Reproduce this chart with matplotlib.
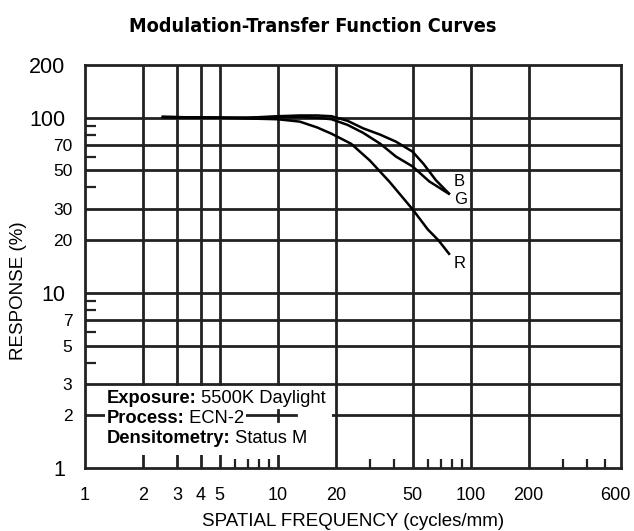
import matplotlib
matplotlib.use("agg")

import matplotlib.pyplot as plt
from matplotlib.patches import Rectangle
from matplotlib.ticker import FixedLocator, NullFormatter

plt.rcParams["font.family"] = ["Liberation Sans", "DejaVu Sans"]

# Curve data (frequency in cycles/mm, response in %).
freq_b = [2.5, 5, 7, 10, 13, 16, 19, 23, 27.7, 34, 41, 50, 57, 66, 78]
resp_b = [101, 100, 100, 102, 103, 103, 102, 96, 87, 80, 73, 64, 54.5, 44, 36.5]

freq_g = [2.5, 5, 7, 10, 13, 16, 19, 23, 27.7, 34, 41, 50, 61, 78]
resp_g = [101, 100, 100, 101, 101, 100, 98, 91, 82, 71, 60, 52.7, 43.3, 36.5]

freq_r = [2.5, 5, 7, 10, 13, 16, 19, 24, 30, 38, 50, 60, 68, 78]
resp_r = [101, 100, 99, 98, 95, 88, 81, 71, 57, 43, 30, 23, 20, 16.5]

# Tick labels and grid positions.
x_labels = [1, 2, 3, 4, 5, 10, 20, 50, 100, 200, 600]
x_short = [6, 7, 8, 9, 30, 40, 60, 70, 80, 90, 300, 400, 500]
x_grid = [2, 3, 4, 5, 10, 20, 50, 100, 200]
y_labels = [1, 2, 3, 5, 7, 10, 20, 30, 50, 70, 100, 200]
y_big = [1, 10, 100, 200]
y_short = [4, 6, 8, 9, 40, 60, 80, 90]
y_grid = [2, 3, 5, 7, 10, 20, 30, 50, 70, 100]

notes = [("Exposure:", "5500K Daylight"),
         ("Process:", "ECN-2"),
         ("Densitometry:", "Status M")]

ink = "#222222"

fig = plt.figure(figsize=(6.34, 5.31), dpi=100)
ax = fig.add_axes([0.134, 0.1186, 0.845, 0.759])
ax.set_xscale("log")
ax.set_yscale("log")
ax.set_xlim(1, 600)
ax.set_ylim(1, 200)

# Grid
for v in x_grid:
    ax.axvline(v, color=ink, lw=2.0, zorder=1)
for h in y_grid:
    ax.axhline(h, color=ink, lw=2.0, zorder=1)

# White area behind the notes, then the line at 2 that shows through it
ax.add_patch(Rectangle((1.03, 1.19), 19 - 1.03, 2.93 - 1.19,
                       facecolor="white", edgecolor="none", zorder=1.5))
ax.plot([1, 12.5], [2, 2], color=ink, lw=2.0, zorder=2)
ax.plot([10, 10], [1.86, 2.15], color=ink, lw=2.0, zorder=2)

# Curves
for fx, ry, name, off in [(freq_b, resp_b, "B", (3, 9)),
                          (freq_g, resp_g, "G", (3, -4)),
                          (freq_r, resp_r, "R", (3, -6))]:
    ax.plot(fx, ry, color="black", lw=1.8, zorder=3,
            solid_capstyle="butt")
    ax.annotate(name, (fx[-1], ry[-1]), xytext=off,
                textcoords="offset points", ha="left", va="center",
                fontsize=12, zorder=4)

# Notes
y_note = [2.5, 1.93, 1.47]
for (bold, value), yn in zip(notes, y_note):
    t = ax.text(1.29, yn, bold, fontsize=13.2, fontweight="bold",
                va="center", ha="left", zorder=4,
                bbox=dict(facecolor="white", edgecolor="none", pad=1))
    ax.annotate(" " + value, xy=(1, 0), xycoords=t, va="bottom",
                ha="left", fontsize=13.2, zorder=4,
                bbox=dict(facecolor="white", edgecolor="none", pad=1))

# X ticks (the last label sits a little left of its tick, as in the original)
ax.xaxis.set_major_locator(FixedLocator(x_labels))
ax.set_xticklabels([str(v) if v != x_labels[-1] else "" for v in x_labels])
ax.annotate(str(x_labels[-1]), xy=(x_labels[-1], 1), xytext=(-4, -14),
            textcoords="offset points", ha="center", va="top", fontsize=13)
ax.xaxis.set_minor_locator(FixedLocator(x_short))
ax.xaxis.set_minor_formatter(NullFormatter())
ax.tick_params(axis="x", which="major", length=0, pad=14, labelsize=13)
ax.tick_params(axis="x", which="minor", direction="in", length=6.5,
               width=1.6, color=ink)

# Y ticks
ax.yaxis.set_major_locator(FixedLocator(y_labels))
ax.set_yticklabels([str(v) for v in y_labels])
ax.yaxis.set_minor_locator(FixedLocator(y_short))
ax.yaxis.set_minor_formatter(NullFormatter())
ax.tick_params(axis="y", which="major", length=0)
ax.tick_params(axis="y", which="minor", direction="in", length=8,
               width=1.6, color=ink)
for v, tick in zip(y_labels, ax.yaxis.get_major_ticks()):
    if v in y_big:
        tick.label1.set_fontsize(15.5)
        tick.set_pad(14)
    else:
        tick.label1.set_fontsize(12.5)
        tick.set_pad(9)

for s in ax.spines.values():
    s.set_linewidth(2.0)
    s.set_color(ink)
    s.set_zorder(5)

ax.set_xlabel("SPATIAL FREQUENCY (cycles/mm)", fontsize=13.5)
ax.xaxis.set_label_coords(0.5, -0.112)
ax.set_ylabel("RESPONSE (%)", fontsize=13.5)
ax.yaxis.set_label_coords(-0.108, 0.44)

fig.text(0.494, 0.951, "Modulation-Transfer Function Curves",
         family=["DejaVu Sans Condensed", "DejaVu Sans"],
         fontstretch="condensed", fontweight="bold", fontsize=14.2,
         ha="center", va="center")

fig.savefig("out.png", dpi=100)
